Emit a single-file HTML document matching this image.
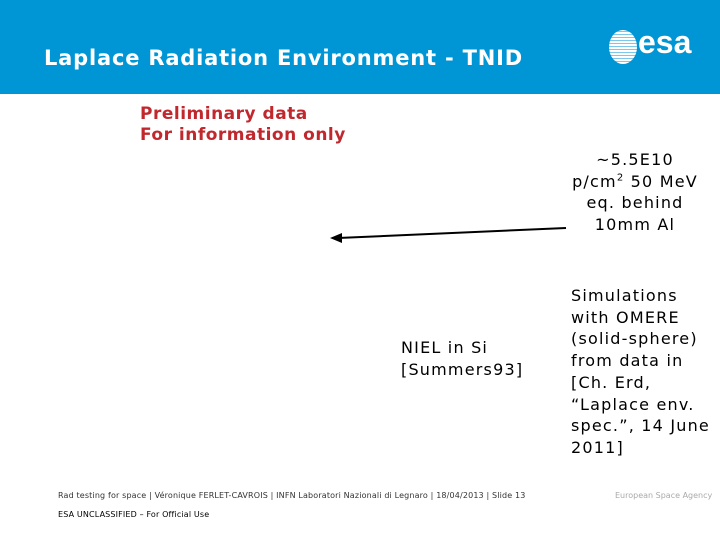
<!DOCTYPE html>
<html><head><meta charset="utf-8"><style>
body{margin:0;width:720px;height:540px;position:relative;background:#fff;font-family:"DejaVu Sans","Liberation Sans",sans-serif;overflow:hidden}
.t{position:absolute;white-space:nowrap}
sup{line-height:0;font-size:10px}
</style></head><body>
<div style="position:absolute;left:0;top:0;width:720px;height:94px;background:#0096d6"></div>
<div class="t" style="left:44px;top:46px;font-size:21px;letter-spacing:0.8px;font-weight:bold;color:#fff">Laplace Radiation Environment - TNID</div>
<div style="position:absolute;left:609px;top:30px;width:28px;height:34px;border-radius:50%;background:repeating-linear-gradient(0deg,#fff 0 2px,#7cc8ea 2px 3px)"></div>
<div class="t" style="left:638px;top:24px;font-size:32px;font-weight:bold;color:#fff;font-family:'Liberation Sans',sans-serif">esa</div>
<div class="t" style="left:140px;top:104px;font-size:17px;letter-spacing:0.5px;font-weight:bold;color:#c0282e;line-height:21px">Preliminary data<br>For information only</div>
<div class="t" style="left:555px;top:149px;width:160px;text-align:center;font-size:16px;letter-spacing:1.2px;line-height:21.7px;color:#000">~5.5E10<br>p/cm<sup>2</sup> 50 MeV<br>eq. behind<br>10mm Al</div>
<svg width="720" height="540" style="position:absolute;left:0;top:0">
<line x1="338" y1="238" x2="566" y2="228" stroke="#000" stroke-width="2"/>
<polygon points="330,238 342,233 342,243" fill="#000"/>
</svg>
<div class="t" style="left:401px;top:337px;font-size:16px;letter-spacing:1.2px;line-height:22px;color:#000">NIEL in Si<br>[Summers93]</div>
<div class="t" style="left:571px;top:285px;font-size:16px;letter-spacing:1.2px;line-height:21.7px;color:#000">Simulations<br>with OMERE<br>(solid-sphere)<br>from data in<br>[Ch. Erd,<br>“Laplace env.<br>spec.”, 14 June<br>2011]</div>
<div class="t" style="left:58px;top:491px;font-size:8px;letter-spacing:0.15px;color:#333">Rad testing for space | Véronique FERLET-CAVROIS | INFN Laboratori Nazionali di Legnaro | 18/04/2013 | Slide 13</div>
<div class="t" style="left:615px;top:491px;font-size:8px;color:#aaa">European Space Agency</div>
<div class="t" style="left:58px;top:510px;font-size:8px;letter-spacing:0.15px;color:#000">ESA UNCLASSIFIED – For Official Use</div>
</body></html>
